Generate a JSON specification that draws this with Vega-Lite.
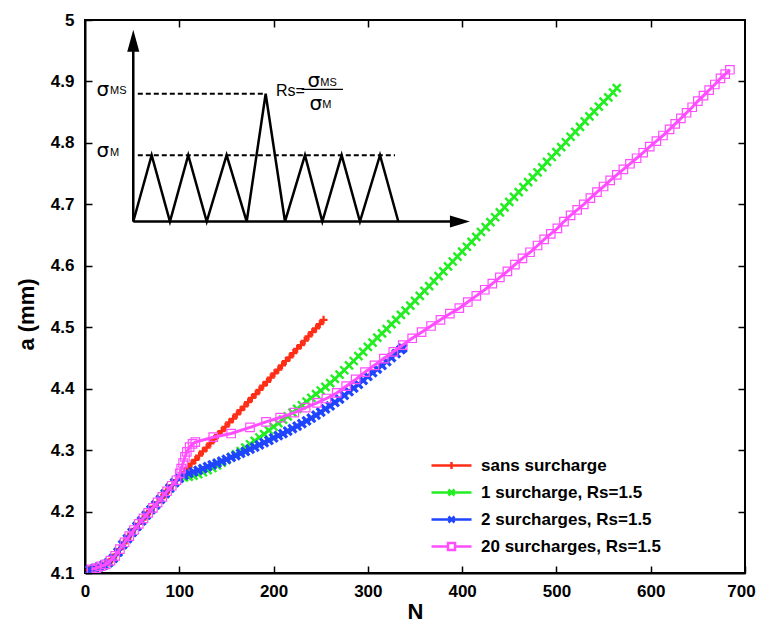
{
  "$schema": "https://vega.github.io/schema/vega-lite/v6.json",
  "width": 660,
  "height": 553,
  "autosize": {"type": "none"},
  "padding": {"left": 85, "top": 20, "right": 12, "bottom": 51},
  "background": "white",
  "config": {
    "view": {"stroke": "black", "strokeWidth": 2},
    "font": "Liberation Sans",
    "axis": {
      "grid": false,
      "labelFont": "Liberation Sans",
      "labelFontSize": 17,
      "labelFontWeight": "bold",
      "labelColor": "black",
      "titleFont": "Liberation Sans",
      "titleFontSize": 22,
      "titleFontWeight": "bold",
      "titleColor": "black",
      "tickColor": "black",
      "tickWidth": 1.5,
      "domainColor": "black",
      "domainWidth": 2
    }
  },
  "datasets": {
    "red": [
      {"N":5,"a":4.105},{"N":9,"a":4.107},{"N":13,"a":4.109},{"N":17,"a":4.111},{"N":21,"a":4.114},{"N":25,"a":4.117},{"N":29,"a":4.123},{"N":33,"a":4.130},{"N":37,"a":4.139},{"N":41,"a":4.148},{"N":45,"a":4.156},{"N":49,"a":4.164},{"N":53,"a":4.172},{"N":57,"a":4.180},{"N":61,"a":4.187},{"N":65,"a":4.194},{"N":69,"a":4.201},{"N":73,"a":4.208},{"N":77,"a":4.215},{"N":81,"a":4.222},{"N":85,"a":4.229},{"N":89,"a":4.236},{"N":93,"a":4.243},{"N":97,"a":4.251},{"N":101,"a":4.258},{"N":105,"a":4.264},{"N":109,"a":4.271},{"N":113,"a":4.278},{"N":117,"a":4.284},{"N":121,"a":4.291},{"N":125,"a":4.298},{"N":129,"a":4.304},{"N":133,"a":4.311},{"N":137,"a":4.318},{"N":141,"a":4.325},{"N":145,"a":4.331},{"N":149,"a":4.338},{"N":153,"a":4.345},{"N":157,"a":4.351},{"N":161,"a":4.358},{"N":165,"a":4.365},{"N":169,"a":4.371},{"N":173,"a":4.378},{"N":177,"a":4.385},{"N":181,"a":4.391},{"N":185,"a":4.398},{"N":189,"a":4.405},{"N":193,"a":4.411},{"N":197,"a":4.418},{"N":201,"a":4.425},{"N":205,"a":4.431},{"N":209,"a":4.438},{"N":213,"a":4.445},{"N":217,"a":4.451},{"N":221,"a":4.458},{"N":225,"a":4.465},{"N":229,"a":4.471},{"N":233,"a":4.478},{"N":237,"a":4.485},{"N":241,"a":4.492},{"N":245,"a":4.498},{"N":249,"a":4.505},{"N":253,"a":4.512}
    ],
    "green": [
      {"N":5,"a":4.105},{"N":10,"a":4.107},{"N":15,"a":4.110},{"N":20,"a":4.113},{"N":25,"a":4.117},{"N":30,"a":4.124},{"N":35,"a":4.134},{"N":40,"a":4.146},{"N":45,"a":4.156},{"N":50,"a":4.166},{"N":55,"a":4.176},{"N":60,"a":4.185},{"N":65,"a":4.194},{"N":70,"a":4.203},{"N":75,"a":4.211},{"N":80,"a":4.220},{"N":85,"a":4.229},{"N":90,"a":4.238},{"N":95,"a":4.247},
      {"N":100,"a":4.254},{"N":105,"a":4.2555},{"N":110,"a":4.257},{"N":115,"a":4.2585},{"N":120,"a":4.261},{"N":125,"a":4.264},{"N":130,"a":4.2675},{"N":135,"a":4.271},{"N":140,"a":4.275},{"N":145,"a":4.2795},{"N":150,"a":4.284},{"N":155,"a":4.2885},{"N":160,"a":4.293},{"N":165,"a":4.2985},{"N":170,"a":4.304},{"N":175,"a":4.3095},{"N":180,"a":4.315},{"N":185,"a":4.3205},{"N":190,"a":4.326},{"N":195,"a":4.332},{"N":200,"a":4.338},{"N":205,"a":4.344},{"N":210,"a":4.3495},{"N":215,"a":4.355},{"N":220,"a":4.361},{"N":225,"a":4.367},{"N":230,"a":4.373},{"N":235,"a":4.379},{"N":240,"a":4.385},{"N":245,"a":4.391},{"N":250,"a":4.397},{"N":255,"a":4.403},{"N":260,"a":4.409},{"N":265,"a":4.416},{"N":270,"a":4.423},{"N":275,"a":4.430},{"N":280,"a":4.438},{"N":285,"a":4.445},{"N":290,"a":4.453},{"N":295,"a":4.460},{"N":300,"a":4.468},{"N":305,"a":4.475},{"N":310,"a":4.483},{"N":315,"a":4.490},{"N":320,"a":4.497},{"N":325,"a":4.505},{"N":330,"a":4.512},{"N":335,"a":4.520},{"N":340,"a":4.527},{"N":345,"a":4.535},{"N":350,"a":4.543},{"N":355,"a":4.551},{"N":360,"a":4.559},{"N":365,"a":4.567},{"N":370,"a":4.575},{"N":375,"a":4.583},{"N":380,"a":4.591},{"N":385,"a":4.599},{"N":390,"a":4.607},{"N":395,"a":4.615},{"N":400,"a":4.623},{"N":405,"a":4.631},{"N":410,"a":4.639},{"N":415,"a":4.647},{"N":420,"a":4.655},{"N":425,"a":4.663},{"N":430,"a":4.671},{"N":435,"a":4.679},{"N":440,"a":4.687},{"N":445,"a":4.695},{"N":450,"a":4.704},{"N":455,"a":4.712},{"N":460,"a":4.720},{"N":465,"a":4.728},{"N":470,"a":4.736},{"N":475,"a":4.744},{"N":480,"a":4.752},{"N":485,"a":4.760},{"N":490,"a":4.769},{"N":495,"a":4.777},{"N":500,"a":4.785},{"N":505,"a":4.793},{"N":510,"a":4.801},{"N":515,"a":4.810},{"N":520,"a":4.818},{"N":525,"a":4.826},{"N":530,"a":4.835},{"N":535,"a":4.843},{"N":540,"a":4.851},{"N":545,"a":4.859},{"N":550,"a":4.867},{"N":555,"a":4.874},{"N":560,"a":4.882},{"N":564,"a":4.889}
    ],
    "blue": [
      {"N":5,"a":4.105},{"N":10,"a":4.107},{"N":15,"a":4.110},{"N":20,"a":4.113},{"N":25,"a":4.117},{"N":30,"a":4.124},{"N":35,"a":4.134},{"N":40,"a":4.146},{"N":45,"a":4.156},{"N":50,"a":4.166},{"N":55,"a":4.176},{"N":60,"a":4.185},{"N":65,"a":4.194},{"N":70,"a":4.203},{"N":75,"a":4.211},{"N":80,"a":4.220},{"N":85,"a":4.229},{"N":90,"a":4.238},{"N":95,"a":4.247},
      {"N":100,"a":4.254},{"N":105,"a":4.259},{"N":110,"a":4.262},{"N":115,"a":4.2645},{"N":120,"a":4.267},{"N":125,"a":4.270},{"N":130,"a":4.273},{"N":135,"a":4.276},{"N":140,"a":4.279},{"N":145,"a":4.282},{"N":150,"a":4.285},{"N":155,"a":4.288},{"N":160,"a":4.291},{"N":165,"a":4.2945},{"N":170,"a":4.298},{"N":175,"a":4.3015},{"N":180,"a":4.305},{"N":185,"a":4.3085},{"N":190,"a":4.312},{"N":195,"a":4.316},{"N":200,"a":4.320},{"N":205,"a":4.3235},{"N":210,"a":4.327},{"N":215,"a":4.331},{"N":220,"a":4.335},{"N":225,"a":4.339},{"N":230,"a":4.343},{"N":235,"a":4.3475},{"N":240,"a":4.352},{"N":245,"a":4.357},{"N":250,"a":4.362},{"N":255,"a":4.367},{"N":260,"a":4.372},{"N":265,"a":4.3775},{"N":270,"a":4.383},{"N":275,"a":4.389},{"N":280,"a":4.395},{"N":285,"a":4.401},{"N":290,"a":4.407},{"N":295,"a":4.4135},{"N":300,"a":4.420},{"N":305,"a":4.426},{"N":310,"a":4.432},{"N":315,"a":4.438},{"N":320,"a":4.444},{"N":325,"a":4.4505},{"N":330,"a":4.457},{"N":335,"a":4.4635},{"N":337,"a":4.466}
    ],
    "magenta": [
      {"N":7,"a":4.106},{"N":12,"a":4.108},{"N":17,"a":4.111},{"N":22,"a":4.114},{"N":27,"a":4.120},{"N":32,"a":4.128},{"N":37,"a":4.139},{"N":42,"a":4.150},{"N":47,"a":4.160},{"N":52,"a":4.170},{"N":57,"a":4.180},{"N":62,"a":4.189},{"N":67,"a":4.198},{"N":72,"a":4.206},{"N":77,"a":4.215},{"N":82,"a":4.224},{"N":87,"a":4.233},{"N":92,"a":4.242},{"N":97,"a":4.251},
      {"N":100.5,"a":4.262},{"N":102,"a":4.270},{"N":104,"a":4.279},{"N":106,"a":4.289},{"N":108,"a":4.297},{"N":111,"a":4.305},{"N":114,"a":4.310},{"N":117,"a":4.313},{"N":136,"a":4.321},{"N":155,"a":4.327},{"N":175,"a":4.337},{"N":192,"a":4.346},{"N":207,"a":4.353},{"N":222,"a":4.361},{"N":234,"a":4.369},{"N":246,"a":4.377},{"N":256,"a":4.384},{"N":267,"a":4.393},{"N":277,"a":4.404},{"N":287,"a":4.415},{"N":297,"a":4.427},{"N":307,"a":4.438},{"N":317,"a":4.449},{"N":327,"a":4.460},{"N":337,"a":4.471},{"N":347,"a":4.482},{"N":357,"a":4.492},{"N":367,"a":4.502},{"N":377,"a":4.512},{"N":387,"a":4.522},{"N":397,"a":4.531},{"N":406,"a":4.541},{"N":415,"a":4.551},{"N":424,"a":4.561},{"N":432,"a":4.571},{"N":440,"a":4.581},{"N":448,"a":4.591},{"N":456,"a":4.602},{"N":464,"a":4.612},{"N":472,"a":4.622},{"N":480,"a":4.633},{"N":487,"a":4.643},{"N":494,"a":4.652},{"N":501,"a":4.661},{"N":508,"a":4.672},{"N":515,"a":4.682},{"N":522,"a":4.691},{"N":529,"a":4.700},{"N":536,"a":4.710},{"N":543,"a":4.720},{"N":550,"a":4.729},{"N":557,"a":4.739},{"N":564,"a":4.748},{"N":571,"a":4.757},{"N":578,"a":4.766},{"N":585,"a":4.775},{"N":592,"a":4.784},{"N":599,"a":4.794},{"N":606,"a":4.803},{"N":613,"a":4.812},{"N":620,"a":4.822},{"N":626,"a":4.831},{"N":632,"a":4.840},{"N":638,"a":4.849},{"N":644,"a":4.858},{"N":650,"a":4.868},{"N":656,"a":4.877},{"N":662,"a":4.886},{"N":668,"a":4.895},{"N":674,"a":4.905},{"N":679,"a":4.912},{"N":684,"a":4.919}
    ],
    "wave": [
      {"N":51.2,"a":4.672},{"N":70.7,"a":4.780},{"N":90.1,"a":4.672},{"N":109.5,"a":4.780},{"N":129.1,"a":4.672},{"N":150.2,"a":4.780},{"N":171.5,"a":4.672},{"N":191.6,"a":4.880},{"N":212.1,"a":4.672},{"N":233.3,"a":4.780},{"N":251.7,"a":4.672},{"N":272.2,"a":4.780},{"N":291.6,"a":4.672},{"N":312.9,"a":4.780},{"N":332.3,"a":4.672}
    ],
    "axes": [
      {"N":51.2,"a":4.672,"N2":51.2,"a2":4.955},
      {"N":51.2,"a":4.672,"N2":395,"a2":4.672}
    ],
    "dash": [
      {"N":56,"a":4.880,"N2":191.6,"a2":4.880},
      {"N":56,"a":4.780,"N2":328.8,"a2":4.780}
    ],
    "frac": [{"N":229.8,"a":4.887,"N2":273.6,"a2":4.887}],
    "uparrow": [{"N":51.2,"a":4.984}],
    "rightarrow": [{"N":408.3,"a":4.672}],
    "sigma": [
      {"N":12.2,"a":4.886,"t":"σ"},{"N":12.2,"a":4.786,"t":"σ"},{"N":236.0,"a":4.900,"t":"σ"},{"N":238.0,"a":4.863,"t":"σ"}
    ],
    "sub": [
      {"N":26.5,"a":4.884,"t":"MS"},{"N":26.5,"a":4.784,"t":"M"},{"N":249.5,"a":4.898,"t":"MS"},{"N":251.5,"a":4.861,"t":"M"}
    ],
    "rs": [{"N":202.5,"a":4.885,"t":"Rs="}],
    "frame": [{"N":0,"a":4.1}]
  },
  "layer": [
    {
      "encoding": {
        "x": {"field": "N", "type": "quantitative", "scale": {"domain": [0, 700], "nice": false, "zero": false},
              "axis": {"orient": "bottom", "title": "N", "values": [0,100,200,300,400,500,600,700], "tickSize": -7, "labelPadding": 17, "titlePadding": 2, "labelFlush": false,
                       "labelOffset": {"condition": {"test": "datum.value === 700", "value": -4}, "value": 0}}},
        "y": {"field": "a", "type": "quantitative", "scale": {"domain": [4.1, 5.0], "nice": false, "zero": false},
              "axis": {"orient": "left", "title": "a (mm)", "values": [4.1,4.2,4.3,4.4,4.5,4.6,4.7,4.8,4.9,5.0], "format": ".2~f", "tickSize": -7, "labelPadding": 18, "titlePadding": 12, "titleY": 294, "labelFlush": false}}
      },
      "layer": [
        {
          "data": {"name": "red"},
          "layer": [
            {"mark": {"type": "line", "strokeWidth": 2.5, "clip": true},
             "encoding": {"color": {"datum": "sans surcharge", "type": "nominal",
               "scale": {"domain": ["sans surcharge", "1 surcharge, Rs=1.5", "2 surcharges, Rs=1.5", "20 surcharges, Rs=1.5"], "range": ["#ff2d16", "#22ee22", "#1f45ff", "#ff4dff"]},
               "legend": {
                 "orient": "none", "legendX": 355, "legendY": 434, "title": null, "padding": 0,
                 "labelFont": "Liberation Sans", "labelFontSize": 17, "labelFontWeight": "bold", "labelColor": "black", "labelLimit": 0,
                 "symbolSize": 400, "labelOffset": 18, "rowPadding": 7, "symbolStrokeWidth": 2.5,
                 "encoding": {"symbols": {
                   "shape": {"value": {"expr": "datum.value === 'sans surcharge' ? 'M-2,0L2,0M0,-0.35L0,0.35' : datum.value === '1 surcharge, Rs=1.5' ? 'M-2,0L2,0M-0.3,-0.3L0.3,0.3M-0.3,0.3L0.3,-0.3' : datum.value === '2 surcharges, Rs=1.5' ? 'M-2,0L2,0M-0.3,-0.3L0.3,0.3M-0.3,0.3L0.3,-0.3' : 'M-2,0L-0.35,0M0.35,0L2,0M-0.35,-0.35L0.35,-0.35L0.35,0.35L-0.35,0.35Z'"}},
                   "fill": {"value": "transparent"},
                   "strokeWidth": {"value": 2.5},
                   "size": {"value": 400},
                   "opacity": {"value": 1}
                 }}
               }}}},
            {"mark": {"type": "point", "shape": "M-1,0L1,0M0,-1L0,1", "filled": false, "size": 64, "strokeWidth": 2.2, "opacity": 1, "clip": true},
             "encoding": {"color": {"datum": "sans surcharge", "type": "nominal"}}}
          ]
        },
        {
          "data": {"name": "green"},
          "layer": [
            {"mark": {"type": "line", "strokeWidth": 2.5, "clip": true},
             "encoding": {"color": {"datum": "1 surcharge, Rs=1.5", "type": "nominal"}}},
            {"mark": {"type": "point", "shape": "M-1,-1L1,1M-1,1L1,-1", "filled": false, "size": 64, "strokeWidth": 2.4, "opacity": 1, "clip": true},
             "encoding": {"color": {"datum": "1 surcharge, Rs=1.5", "type": "nominal"}}}
          ]
        },
        {
          "data": {"name": "blue"},
          "layer": [
            {"mark": {"type": "line", "strokeWidth": 2.5, "clip": true},
             "encoding": {"color": {"datum": "2 surcharges, Rs=1.5", "type": "nominal"}}},
            {"mark": {"type": "point", "shape": "M-1,-1L1,1M-1,1L1,-1", "filled": false, "size": 64, "strokeWidth": 3.2, "opacity": 1, "clip": true},
             "encoding": {"color": {"datum": "2 surcharges, Rs=1.5", "type": "nominal"}}}
          ]
        },
        {
          "data": {"name": "magenta"},
          "layer": [
            {"mark": {"type": "line", "strokeWidth": 3, "clip": true},
             "encoding": {"color": {"datum": "20 surcharges, Rs=1.5", "type": "nominal"}}},
            {"mark": {"type": "point", "shape": "square", "filled": false, "size": 72, "strokeWidth": 1.2, "opacity": 1, "clip": true},
             "encoding": {"color": {"datum": "20 surcharges, Rs=1.5", "type": "nominal"}}}
          ]
        },
        {"data": {"name": "wave"}, "mark": {"type": "line", "color": "black", "strokeWidth": 2.5}, "encoding": {}},
        {"data": {"name": "axes"}, "mark": {"type": "rule", "color": "black", "strokeWidth": 2.5},
         "encoding": {"x2": {"field": "N2"}, "y2": {"field": "a2"}}},
        {"data": {"name": "dash"}, "mark": {"type": "rule", "color": "black", "strokeWidth": 2, "strokeDash": [5, 3]},
         "encoding": {"x2": {"field": "N2"}, "y2": {"field": "a2"}}},
        {"data": {"name": "frac"}, "mark": {"type": "rule", "color": "black", "strokeWidth": 1.2},
         "encoding": {"x2": {"field": "N2"}, "y2": {"field": "a2"}}},
        {"data": {"name": "uparrow"}, "mark": {"type": "point", "shape": "M0,0L-0.55,2L0.55,2Z", "filled": true, "color": "black", "size": 484, "opacity": 1}, "encoding": {}},
        {"data": {"name": "rightarrow"}, "mark": {"type": "point", "shape": "M0,0L-2,-0.6L-2,0.6Z", "filled": true, "color": "black", "size": 400, "opacity": 1}, "encoding": {}},
        {"data": {"name": "sigma"}, "mark": {"type": "text", "font": "DejaVu Sans", "fontSize": 20, "align": "left", "baseline": "middle", "color": "black"},
         "encoding": {"text": {"field": "t"}}},
        {"data": {"name": "sub"}, "mark": {"type": "text", "font": "Liberation Sans", "fontSize": 11, "align": "left", "baseline": "middle", "color": "black"},
         "encoding": {"text": {"field": "t"}}},
        {"data": {"name": "rs"}, "mark": {"type": "text", "font": "Liberation Sans", "fontSize": 16, "align": "left", "baseline": "middle", "color": "black"},
         "encoding": {"text": {"field": "t"}}}
      ]
    },
    {
      "data": {"name": "frame"},
      "mark": {"type": "point", "opacity": 0},
      "encoding": {
        "x": {"field": "N", "type": "quantitative",
              "axis": {"orient": "top", "title": null, "labels": false, "domain": false, "tickSize": -7, "values": [100,200,300,400,500,600]}},
        "y": {"field": "a", "type": "quantitative",
              "axis": {"orient": "right", "title": null, "labels": false, "domain": false, "tickSize": -7, "values": [4.2,4.3,4.4,4.5,4.6,4.7,4.8,4.9]}}
      }
    }
  ]
}
